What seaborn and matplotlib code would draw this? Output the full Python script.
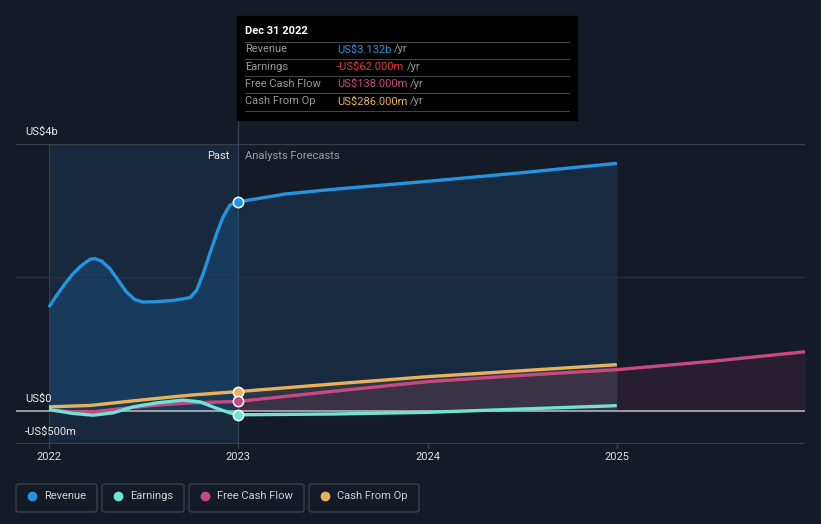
import numpy as np
import pandas as pd
import matplotlib
matplotlib.use("Agg")
import matplotlib.pyplot as plt
from matplotlib.patches import Rectangle, FancyBboxPatch
import seaborn as sns

# values, in US$m
rev_past_x = [2022.0, 2022.041, 2022.085, 2022.128, 2022.173, 2022.217, 2022.243, 2022.278,
              2022.322, 2022.366, 2022.41, 2022.454, 2022.498, 2022.569, 2022.657, 2022.745,
              2022.78, 2022.815, 2022.85, 2022.886, 2022.92, 2022.956, 2023.0]
rev_past_y = [1553, 1729, 1905, 2056, 2180, 2271, 2281, 2245,
              2131, 1955, 1779, 1665, 1629, 1635, 1654, 1695,
              1805, 2056, 2356, 2657, 2907, 3083, 3132]
rev_fc_x = [2023.0, 2023.25, 2023.5, 2024.0, 2024.5, 2025.0]
rev_fc_y = [3132, 3250, 3320, 3440, 3570, 3710]

earn_past_x = [2022.0, 2022.127, 2022.233, 2022.338, 2022.444, 2022.571, 2022.708, 2022.798,
               2022.888, 2022.956, 2023.0]
earn_past_y = [18, -42, -68, -33, 57, 117, 158, 132, 33, -33, -62]
earn_fc_x = [2023.0, 2023.5, 2024.0, 2024.5, 2025.0]
earn_fc_y = [-62, -50, -25, 25, 75]

fcf_past_x = [2022.0, 2022.127, 2022.233, 2022.39, 2022.571, 2022.745, 2023.0]
fcf_past_y = [8, -18, -18, 33, 83, 117, 138]
fcf_fc_x = [2023.0, 2023.5, 2024.0, 2024.5, 2025.0, 2025.5, 2026.0]
fcf_fc_y = [138, 290, 435, 530, 615, 740, 885]

cfo_past_x = [2022.0, 2022.217, 2022.481, 2022.745, 2023.0]
cfo_past_y = [57, 78, 158, 233, 286]
cfo_fc_x = [2023.0, 2023.5, 2024.0, 2024.5, 2025.0]
cfo_fc_y = [286, 400, 510, 600, 690]

year_ticks = [2022, 2023, 2024, 2025]
tooltip_rows = [("Revenue", "US$3.132b"), ("Earnings", "-US$62.000m"),
                ("Free Cash Flow", "US$138.000m"), ("Cash From Op", "US$286.000m")]

C_REV = "#2394df"
C_EARN = "#6fe3d4"
C_FCF = "#c8497f"
C_CFO = "#e8b15a"
BG = "#151b26"
FS = 8

sns.set_style("dark")
plt.rcParams["font.family"] = ["Roboto", "DejaVu Sans"]

W, H = 821, 524
fig = plt.figure(figsize=(W / 100, H / 100), dpi=100, facecolor=BG)


def fx(px):
    return px / W


def fy(py):
    return 1 - py / H


ax = fig.add_axes([fx(16), fy(444), fx(805) - fx(16), fy(144) - fy(444)])
ax.set_facecolor(BG)
x0, x1 = 2021.826, 2025.994
ax.set_xlim(x0, x1)
ax.set_ylim(-500, 4000)
for s in ax.spines.values():
    s.set_visible(False)
ax.set_xticks([])
ax.set_yticks([])
ax.grid(False)

# past shading
ax.axvspan(2022.0, 2023.0, color="#1b3550", alpha=0.55, lw=0, zorder=0)
ax.axvline(2022.0, color="#24405c", lw=0.8, zorder=0.5)
ax.axvline(2023.0, color="#2c4560", lw=0.9, zorder=1.6)

# area fills
ax.fill_between(rev_past_x, rev_past_y, 0, color="#1a4a75", alpha=0.55, lw=0, zorder=1)
ax.fill_between(rev_fc_x, rev_fc_y, 0, color="#1b3550", alpha=0.6, lw=0, zorder=1)
ax.fill_between(fcf_fc_x, fcf_fc_y, 0, color="#4a2440", alpha=0.35, lw=0, zorder=1)
ax.fill_between(cfo_fc_x, cfo_fc_y, 0, color="#6a5a5a", alpha=0.25, lw=0, zorder=1)

# grid lines
ax.axhline(4000, color="#3a404a", lw=1, zorder=1.5)
ax.axhline(2000, color="#2a3038", lw=1, zorder=1.5)
ax.axhline(-500, color="#3a404a", lw=1.5, zorder=1.5)
ax.axhline(0, color="#b0b3b8", lw=1.2, zorder=2)

series = [
    (rev_past_x, rev_past_y, rev_fc_x, rev_fc_y, C_REV),
    (cfo_past_x, cfo_past_y, cfo_fc_x, cfo_fc_y, C_CFO),
    (fcf_past_x, fcf_past_y, fcf_fc_x, fcf_fc_y, C_FCF),
    (earn_past_x, earn_past_y, earn_fc_x, earn_fc_y, C_EARN),
]
for px_, py_, fx_, fy_, c in series:
    df = pd.DataFrame({"x": px_ + fx_[1:], "y": py_ + fy_[1:]})
    sns.lineplot(data=df, x="x", y="y", ax=ax, color=c, lw=2.4, zorder=3,
                 solid_capstyle="butt", solid_joinstyle="round")
    ax.scatter([px_[-1]], [py_[-1]], s=55, color=c, edgecolor="white", linewidth=1.1, zorder=5)
ax.set_xlabel("")
ax.set_ylabel("")

# tick marks at bottom
for yr in year_ticks:
    ax.plot([yr, yr], [-500, -560], color="#3a404a", lw=1, clip_on=False)
    fig.text(fx(16 + (yr - x0) / (x1 - x0) * 789), fy(457), str(yr), color="#e0e0e0",
             fontsize=FS, ha="center", va="center")

# y labels
fig.text(fx(25), fy(132), "US$4b", color="#e8e8e8", fontsize=FS, va="center")
fig.text(fx(25), fy(399), "US$0", color="#e8e8e8", fontsize=FS, va="center")
fig.text(fx(25), fy(432), "-US$500m", color="#e8e8e8", fontsize=FS, va="center")

fig.text(fx(229), fy(156), "Past", color="#e8e8e8", fontsize=FS, ha="right", va="center")
fig.text(fx(245), fy(156), "Analysts Forecasts", color="#9a9ea5", fontsize=FS, ha="left", va="center")

# vertical line above the axes, up to tooltip
fig.add_artist(plt.Line2D([fx(237.5), fx(237.5)], [fy(144), fy(118)], color="#2c4560", lw=0.9))

# tooltip
fig.add_artist(Rectangle((fx(237), fy(120)), fx(577) - fx(237), fy(16) - fy(120),
                         transform=fig.transFigure, color="#000000", zorder=10))
fig.text(fx(245), fy(31), "Dec 31 2022", color="white", fontsize=FS, fontweight="bold",
         va="center", zorder=11)
for yl in [41.5, 58.5, 76, 93, 111]:
    fig.add_artist(plt.Line2D([fx(245), fx(569)], [fy(yl), fy(yl)], color="#444444", lw=0.8, zorder=11))
val_colors = [C_REV, "#e8363c", C_FCF, C_CFO]
for i, (lab, val) in enumerate(tooltip_rows):
    yy = fy(49.5 + i * 17.3)
    fig.text(fx(245), yy, lab, color="#9a9a9a", fontsize=FS, va="center", zorder=11)
    t = fig.text(fx(337), yy, val, color=val_colors[i], fontsize=FS, va="center", zorder=11)
    fig.canvas.draw()
    bb = t.get_window_extent()
    fig.text(bb.x1 / W + fx(3), yy, "/yr", color="#9a9a9a", fontsize=FS, va="center", zorder=11)

# legend boxes
legend_items = [("Revenue", C_REV, 16, 97), ("Earnings", C_EARN, 102, 184),
                ("Free Cash Flow", C_FCF, 189, 304), ("Cash From Op", C_CFO, 309, 419)]
for lab, c, l, r in legend_items:
    fig.add_artist(FancyBboxPatch((fx(l), fy(512)), fx(r) - fx(l), fy(484) - fy(512),
                                  boxstyle="round,pad=0,rounding_size=0.004",
                                  transform=fig.transFigure, facecolor="none",
                                  edgecolor="#3a3f48", lw=1))
    fig.add_artist(plt.Line2D([fx(l + 16)], [fy(496)], marker="o", markersize=6,
                              color=c, lw=0))
    fig.text(fx(l + 28), fy(496), lab, color="#d0d0d0", fontsize=FS, va="center")

fig.savefig("out.png", dpi=100, facecolor=BG)
